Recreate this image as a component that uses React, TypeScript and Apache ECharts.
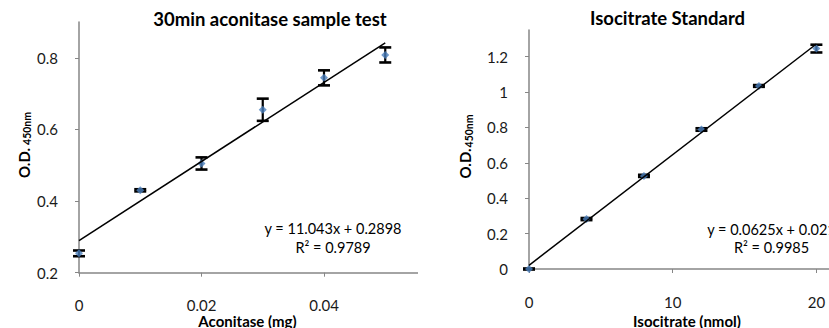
import React, { useEffect, useRef } from "react";
import * as echarts from "echarts";

const FONT = "Lato, 'Open Sans', sans-serif";

// ---- Left chart: 30min aconitase sample test ----
const aconitaseMg = [0, 0.01, 0.02, 0.03, 0.04, 0.05];
const aconitaseOD = [0.254, 0.43, 0.505, 0.655, 0.744, 0.808];
const aconitaseErr = [0.008, 0.003, 0.017, 0.031, 0.021, 0.021];
const aconitaseSlope = 11.043;
const aconitaseIntercept = 0.2898;
const aconitaseXTicks = [0, 0.02, 0.04];
const aconitaseYTicks = [0.2, 0.4, 0.6, 0.8];

// ---- Right chart: Isocitrate Standard ----
const isoNmol = [0, 4, 8, 12, 16, 20];
const isoOD = [0, 0.282, 0.526, 0.788, 1.034, 1.245];
const isoErr = [0.003, 0.006, 0.006, 0.007, 0.005, 0.022];
const isoSlope = 0.0625;
const isoIntercept = 0.021;
const isoXTicks = [0, 10, 20];
const isoYTicks = [0, 0.2, 0.4, 0.6, 0.8, 1, 1.2];

const OD_FONT = `bold 15px ${FONT}`;
const SUB_FONT = `bold 10.5px ${FONT}`;

function measure(t: string, font: string) {
  const cv = document.createElement("canvas");
  const ctx = cv.getContext("2d");
  if (!ctx) return t.length * 7;
  ctx.font = font;
  return ctx.measureText(t).width;
}

type Cfg = {
  grid: any;
  xMin: number;
  xMax: number;
  yMin: number;
  yMax: number;
  xTicks: number[];
  yTicks: number[];
  xs: number[];
  ys: number[];
  errs: number[];
  slope: number;
  intercept: number;
  title: string;
  titlePos: [number, number];
  xName: string;
  xNamePos: [number, number];
  odStart: [number, number];
  subGap: number;
  eq1: string;
  eq2: string;
  eqPos: [number, number, number];
};

function text(x: number, y: number, t: string, font: string) {
  return {
    type: "text",
    x,
    y,
    style: {
      text: t,
      font,
      fill: "#000",
      textAlign: "center",
      textVerticalAlign: "middle",
    },
    silent: true,
  };
}

function buildOption(c: Cfg) {
  const axisLine = { show: true, onZero: false, lineStyle: { color: "#868686", width: 1.5 } };
  const lastX = c.xs[c.xs.length - 1];
  const odW = measure("O.D.", OD_FONT);
  return {
    animation: false,
    grid: c.grid,
    xAxis: {
      type: "value",
      min: c.xMin,
      max: c.xMax,
      axisLine,
      axisTick: { show: true, length: 4, lineStyle: { color: "#868686", width: 1 }, customValues: c.xTicks },
      axisLabel: { customValues: c.xTicks, margin: 25, color: "#1a1a1a", fontFamily: FONT, fontSize: 15 },
      splitLine: { show: false },
    },
    yAxis: {
      type: "value",
      min: c.yMin,
      max: c.yMax,
      axisLine,
      axisTick: { show: true, length: 4, lineStyle: { color: "#868686", width: 1 }, customValues: c.yTicks },
      axisLabel: { customValues: c.yTicks, margin: 21, color: "#1a1a1a", fontFamily: FONT, fontSize: 15 },
      splitLine: { show: false },
    },
    series: [
      {
        type: "custom",
        z: 2,
        clip: false,
        data: c.xs.map((x, i) => [x, c.ys[i], c.errs[i]]),
        encode: { x: 0, y: 1 },
        renderItem: (_p: any, api: any) => {
          const x = api.value(0);
          const y = api.value(1);
          const e = api.value(2);
          const top = api.coord([x, y + e]);
          const bot = api.coord([x, y - e]);
          const hw = 6;
          const st = { stroke: "#000", lineWidth: 2.2 };
          return {
            type: "group",
            children: [
              { type: "line", shape: { x1: top[0], y1: top[1], x2: bot[0], y2: bot[1] }, style: st },
              { type: "line", shape: { x1: top[0] - hw, y1: top[1], x2: top[0] + hw, y2: top[1] }, style: { stroke: "#000", lineWidth: 2.6 } },
              { type: "line", shape: { x1: bot[0] - hw, y1: bot[1], x2: bot[0] + hw, y2: bot[1] }, style: { stroke: "#000", lineWidth: 2.6 } },
            ],
          };
        },
      },
      {
        type: "scatter",
        z: 3,
        symbol: "diamond",
        symbolSize: 8,
        itemStyle: { color: "#4A7EBB" },
        data: c.xs.map((x, i) => [x, c.ys[i]]),
      },
      {
        type: "line",
        z: 4,
        symbol: "none",
        lineStyle: { color: "#000", width: 1.5 },
        data: [
          [c.xs[0], c.slope * c.xs[0] + c.intercept],
          [lastX, c.slope * lastX + c.intercept],
        ],
      },
    ],
    graphic: [
      text(c.titlePos[0], c.titlePos[1], c.title, `bold 18.5px ${FONT}`),
      text(c.xNamePos[0], c.xNamePos[1], c.xName, `bold 15px ${FONT}`),
      {
        type: "group",
        x: c.odStart[0],
        y: c.odStart[1],
        rotation: Math.PI / 2,
        silent: true,
        children: [
          {
            type: "text",
            x: 0,
            y: 0,
            style: { text: "O.D.", font: OD_FONT, fill: "#000", textAlign: "left", textVerticalAlign: "middle" },
          },
          {
            type: "text",
            x: odW + c.subGap,
            y: 3.5,
            style: { text: "450nm", font: SUB_FONT, fill: "#000", textAlign: "left", textVerticalAlign: "middle" },
          },
        ],
      },
      text(c.eqPos[0], c.eqPos[1], c.eq1, `14.5px ${FONT}`),
      text(c.eqPos[0], c.eqPos[2], c.eq2, `14.5px ${FONT}`),
    ],
  };
}

const leftCfg: Cfg = {
  grid: { left: 79, right: 23.5, top: 22, bottom: 55.3 },
  xMin: 0,
  xMax: 0.06,
  yMin: 0.2,
  yMax: 0.9,
  xTicks: aconitaseXTicks,
  yTicks: aconitaseYTicks,
  xs: aconitaseMg,
  ys: aconitaseOD,
  errs: aconitaseErr,
  slope: aconitaseSlope,
  intercept: aconitaseIntercept,
  title: "30min aconitase sample test",
  titlePos: [270, 19],
  xName: "Aconitase (mg)",
  xNamePos: [247.5, 320.5],
  odStart: [23.5, 178],
  subGap: 3,
  eq1: "y = 11.043x + 0.2898",
  eq2: "R² = 0.9789",
  eqPos: [333, 228, 247],
};

const rightCfg: Cfg = {
  grid: { left: 109, right: 31.75, top: 30, bottom: 59 },
  xMin: 0,
  xMax: 25,
  yMin: 0,
  yMax: 1.35,
  xTicks: isoXTicks,
  yTicks: isoYTicks,
  xs: isoNmol,
  ys: isoOD,
  errs: isoErr,
  slope: isoSlope,
  intercept: isoIntercept,
  title: "Isocitrate Standard",
  titlePos: [247.5, 18],
  xName: "Isocitrate (nmol)",
  xNamePos: [267, 320.5],
  odStart: [45, 178.5],
  subGap: 1,
  eq1: "y = 0.0625x + 0.021",
  eq2: "R² = 0.9985",
  eqPos: [351.5, 229, 247],
};

function Chart({ cfg, width }: { cfg: Cfg; width: number }) {
  const ref = useRef<HTMLDivElement>(null);
  useEffect(() => {
    if (!ref.current) return;
    const chart = echarts.init(ref.current, undefined, { renderer: "svg" });
    chart.setOption(buildOption(cfg) as any);
    return () => chart.dispose();
  }, [cfg]);
  return <div ref={ref} style={{ width, height: 328 }} />;
}

export default function App() {
  return (
    <div style={{ position: "fixed", left: 0, top: 0, width: 829, height: 328, background: "#fff", overflow: "hidden" }}>
      <div style={{ position: "absolute", left: 0, top: 0, width: 418, height: 328, overflow: "hidden" }}>
        <Chart cfg={leftCfg} width={470} />
      </div>
      <div style={{ position: "absolute", left: 420, top: 0, width: 409, height: 328, overflow: "hidden" }}>
        <Chart cfg={rightCfg} width={500} />
      </div>
    </div>
  );
}
